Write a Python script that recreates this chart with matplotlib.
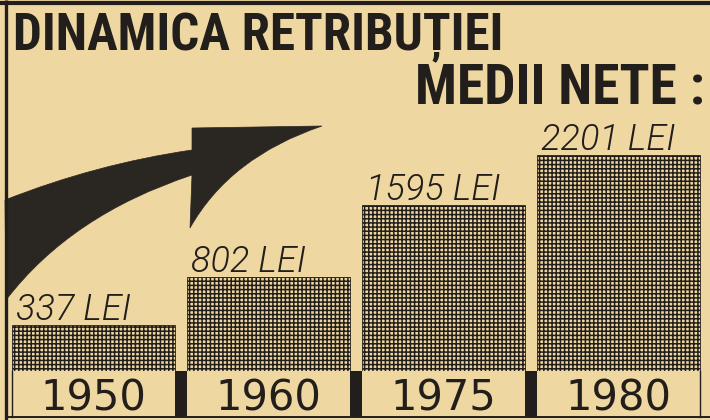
import numpy as np
import matplotlib
matplotlib.use("Agg")
import matplotlib.pyplot as plt
from matplotlib.patches import Rectangle, PathPatch
from matplotlib.path import Path
from matplotlib.textpath import TextPath
from matplotlib.font_manager import FontProperties
from matplotlib import font_manager

# ---- data ----
years = ["1950", "1960", "1975", "1980"]
salaries = [337, 802, 1595, 2201]
unit = "LEI"
title_line1 = "DINAMICA RETRIBUȚIEI"
title_line2 = "MEDII NETE :"

BG = "#efd7a1"
INK = "#221e1b"

W, H = 710, 420
plt.rcParams['hatch.linewidth'] = 1.1
fig = plt.figure(figsize=(W / 100, H / 100), dpi=100, facecolor=BG)

# ---- pick fonts ----
latin = ["DejaVu Sans", "Liberation Sans", "Liberation Sans Narrow", "Noto Sans",
         "Roboto", "Roboto Condensed", "Open Sans", "Lato", "Inter"]

def best_title_font():
    best, best_cap = None, -1
    for f in font_manager.fontManager.ttflist:
        if f.name not in latin or f.style != 'normal':
            continue
        try:
            wgt = int(f.weight)
        except Exception:
            continue
        if wgt < 600:
            continue
        try:
            fp = FontProperties(fname=f.fname)
            tw = TextPath((0, 0), title_line1, size=100, prop=fp).get_extents().width
            ch = TextPath((0, 0), "H", size=100, prop=fp).get_extents().height
        except Exception:
            continue
        if tw <= 0:
            continue
        cap = 490 / tw * ch
        if cap > best_cap:
            best, best_cap = f.fname, cap
    return best

def find_font(fams, style, wmin, wmax):
    for fam in fams:
        for f in font_manager.fontManager.ttflist:
            try:
                wgt = int(f.weight)
            except Exception:
                continue
            if f.name == fam and f.style == style and wmin <= wgt <= wmax:
                return f.fname
    return None

tf = best_title_font()
title_fp = FontProperties(fname=tf) if tf else FontProperties(family='DejaVu Sans', weight='bold', stretch='condensed')
lf = find_font(["Roboto", "Lato", "Open Sans", "Noto Sans"], 'italic', 250, 350)
label_fp = FontProperties(fname=lf) if lf else FontProperties(family='DejaVu Sans', style='italic')

# ---- overlay axes in pixel coordinates (decorations) ----
ov = fig.add_axes([0, 0, 1, 1], zorder=0)
ov.set_xlim(0, W)
ov.set_ylim(H, 0)
ov.axis('off')
ov.patch.set_alpha(0)

# ---- bar axes ----
n = len(years)
step = 174.9
x0 = 93.6 - 0.5 * step
base_px = 371
top_px = 155
ax = fig.add_axes([x0 / W, (H - base_px) / H, n * step / W, (base_px - top_px) / H], zorder=1)
ax.patch.set_alpha(0)
p = 0.82
ax.set_yscale('function', functions=(lambda v: np.sign(v) * np.abs(v) ** p,
                                     lambda v: np.sign(v) * np.abs(v) ** (1 / p)))
ax.set_xlim(-0.5, n - 0.5)
ax.set_ylim(0, max(salaries))
for s in ax.spines.values():
    s.set_visible(False)
ax.set_yticks([])

bw = 0.935
x = np.arange(n)
ax.bar(x, salaries, width=bw, color=BG, edgecolor=INK, linewidth=0.6, hatch='++++')

ax.set_xticks(x, years)
ax.tick_params(axis='x', length=0, pad=5.0, labelsize=30, labelcolor=INK)
for lab in ax.get_xticklabels():
    lab.set_family('DejaVu Sans')

# year box separators
hfrac = (417 - base_px) / (base_px - top_px)
tr = ax.get_xaxis_transform()
for i in range(n - 1):
    l = i + bw / 2
    r = i + 1 - bw / 2
    ax.add_patch(Rectangle((l, -hfrac), r - l, hfrac, transform=tr, clip_on=False,
                           facecolor=INK, edgecolor='none'))
for xe in (-bw / 2, n - 1 + bw / 2):
    ax.plot([xe, xe], [0, -hfrac], transform=tr, clip_on=False, color=INK, lw=1.0)

# value labels
for xi, v in zip(x, salaries):
    t = ax.annotate(f"{v} {unit}", xy=(xi - bw / 2, v), xytext=(4 * 0.72, 5 * 0.72),
                    textcoords='offset points', ha='left', va='baseline',
                    fontproperties=label_fp, color=INK, annotation_clip=False)
    t.set_fontsize(26)

# ---- frame lines ----
ov.plot([0, W], [2.5, 2.5], color=INK, lw=3.0, solid_capstyle='butt')
ov.plot([5.5, 5.5], [0, H], color=INK, lw=2.4, solid_capstyle='butt')
ov.plot([5, W], [417, 417], color=INK, lw=1.4, solid_capstyle='butt')

# ---- arrow ----
verts = [(5, 200), (96, 164), (192, 150), (192, 128), (322, 126),
         (230, 157), (190, 228), (192, 175), (71, 215), (6, 300), (5, 200)]
codes = [Path.MOVETO, Path.CURVE3, Path.CURVE3, Path.LINETO, Path.LINETO,
         Path.CURVE3, Path.CURVE3, Path.LINETO, Path.CURVE3, Path.CURVE3, Path.CLOSEPOLY]
ov.add_patch(PathPatch(Path(verts, codes), facecolor="#2a2622", edgecolor="#2a2622", lw=0.5))

# ---- title ----
t1 = ov.text(13, 50, title_line1, ha='left', va='baseline', fontproperties=title_fp, color=INK)
t2 = ov.text(705, 104, title_line2, ha='right', va='baseline', fontproperties=title_fp, color=INK)
t1.set_fontsize(30)
t2.set_fontsize(30)

def fit(t, target_w, max_size):
    r = fig.canvas.get_renderer()
    w = t.get_window_extent(r).width
    t.set_fontsize(min(t.get_fontsize() * target_w / w, max_size))

fit(t1, 490, 40)
fit(t2, 323, 40)

fig.savefig("out.png", dpi=100, facecolor=BG)
